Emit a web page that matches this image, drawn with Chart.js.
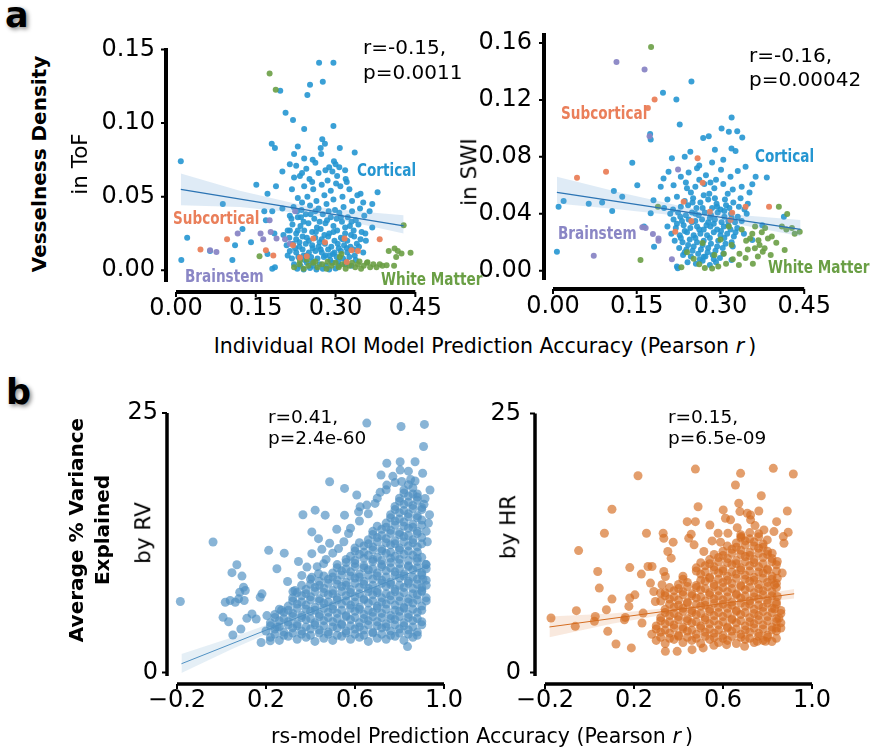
<!DOCTYPE html>
<html lang="en">
<head>
  <meta charset="UTF-8" />
  <title>Vesselness and physiological variance vs prediction accuracy</title>
  <style>
    body { margin: 0; background: #fff; font-family: "DejaVu Sans", sans-serif; color: #000; }
    #fig { position: relative; width: 871px; height: 750px; overflow: hidden; }
    canvas { position: absolute; }
    .t { position: absolute; white-space: nowrap; line-height: 1; }
    .rot { transform: translate(-50%, -50%) rotate(-90deg); }
    .cat { font-weight: bold; font-size: 17px; transform: scaleX(0.8); transform-origin: left center; }
    .stat { font-size: 20px; }
    .statb { font-size: 18.5px; line-height: 21px; }
    .panel { font-weight: bold; font-size: 35px; text-shadow: 2px 2px 4px rgba(0,0,0,0.45); }
    .xt { font-size: 20.5px; width: 600px; text-align: center; }
  </style>
</head>
<body>
<div id="fig">
  <canvas id="tof"></canvas>
  <canvas id="swi"></canvas>
  <canvas id="rv"></canvas>
  <canvas id="hr"></canvas>

  <div class="t panel" style="left:5px; top:-2px;">a</div>
  <div class="t panel" style="left:6px; top:375px;">b</div>

  <div class="t rot" style="left:39px; top:164px; font-size:20px; font-weight:bold;">Vesselness Density</div>
  <div class="t rot" style="left:80px; top:164px; font-size:21.5px;">in ToF</div>
  <div class="t rot" style="left:469px; top:172px; font-size:21.5px;">in SWI</div>
  <div class="t rot" style="left:76px; top:530px; font-size:20px; font-weight:bold;">Average % Variance</div>
  <div class="t rot" style="left:102px; top:530px; font-size:20px; font-weight:bold;">Explained</div>
  <div class="t rot" style="left:143px; top:533px; font-size:21.5px;">by RV</div>
  <div class="t rot" style="left:508px; top:527px; font-size:21.5px;">by HR</div>

  <div class="t xt" style="left:185px; top:335.7px;">Individual ROI Model Prediction Accuracy (Pearson <i>r</i>&thinsp;)</div>
  <div class="t xt" style="left:182px; top:725.7px;">rs-model Prediction Accuracy (Pearson <i>r</i>&thinsp;)</div>

  <div class="t stat" style="left:363px; top:35px; line-height:25px;">r=-0.15,<br>p=0.0011</div>
  <div class="t stat" style="left:749px; top:43px; line-height:24px;">r=-0.16,<br>p=0.00042</div>
  <div class="t statb" style="left:268px; top:406.4px;">r=0.41,<br>p=2.4e-60</div>
  <div class="t statb" style="left:668px; top:406.4px;">r=0.15,<br>p=6.5e-09</div>

  <div class="t cat" style="left:357px; top:161.6px; color:#2596d1;">Cortical</div>
  <div class="t cat" style="left:173px; top:209.6px; color:#ea7f5a;">Subcortical</div>
  <div class="t cat" style="left:185px; top:267.6px; color:#8a86c5;">Brainstem</div>
  <div class="t cat" style="left:381px; top:270.6px; color:#6a9f45;">White Matter</div>
  <div class="t cat" style="left:561px; top:104.6px; color:#ea7f5a;">Subcortical</div>
  <div class="t cat" style="left:755px; top:147.6px; color:#2596d1;">Cortical</div>
  <div class="t cat" style="left:558px; top:224.6px; color:#8a86c5;">Brainstem</div>
  <div class="t cat" style="left:768px; top:258.6px; color:#6a9f45;">White Matter</div>
</div>

<script src="https://cdn.jsdelivr.net/npm/chart.js"></script>
<script>
  // ---- ticks ----
  const roiXTicks = [0, 0.15, 0.30, 0.45];
  const roiXLabels = ['0.00', '0.15', '0.30', '0.45'];
  const tofYTicks = [0, 0.05, 0.10, 0.15];
  const tofYLabels = ['0.00', '0.05', '0.10', '0.15'];
  const swiYTicks = [0, 0.04, 0.08, 0.12, 0.16];
  const swiYLabels = ['0.00', '0.04', '0.08', '0.12', '0.16'];
  const rsXTicks = [-0.2, 0.2, 0.6, 1.0];
  const rsXLabels = ['\u22120.2', '0.2', '0.6', '1.0'];
  const varYTicks = [0, 25];
  const varYLabels = ['0', '25'];

  // ---- panel a, ToF: [prediction r, vesselness density] ----
  const tofCortical = [
    [0.009,0.074],[0.021,0.022],[0.010,0.007],[0.088,0.045],[0.064,0.013],[0.106,0.007],[0.111,0.017],[0.125,0.028],
    [0.141,0.019],[0.151,0.058],[0.269,0.141],[0.296,0.141],[0.196,0.122],[0.252,0.126],[0.276,0.128],[0.247,0.119],
    [0.206,0.107],[0.220,0.102],[0.241,0.096],[0.296,0.098],[0.180,0.086],[0.186,0.083],[0.275,0.089],[0.280,0.086],
    [0.272,0.083],[0.273,0.079],[0.229,0.084],[0.222,0.079],[0.241,0.076],[0.257,0.075],[0.308,0.083],[0.336,0.080],
    [0.300,0.072],[0.307,0.070],[0.288,0.070],[0.294,0.067],[0.214,0.072],[0.237,0.066],[0.222,0.063],[0.200,0.067],
    [0.379,0.053],[0.341,0.051],[0.319,0.062],[0.321,0.060],[0.188,0.057],[0.172,0.052],[0.166,0.040],[0.181,0.040],
    [0.200,0.042],[0.169,0.034],[0.217,0.035],[0.214,0.027],[0.202,0.024],[0.356,0.025],[0.357,0.020],[0.369,0.029],
    [0.344,0.016],[0.185,0.025],[0.181,0.001],[0.186,0.002],[0.172,0.011],[0.369,0.045],[0.364,0.040],
    [0.226,0.071],[0.245,0.069],[0.262,0.073],[0.281,0.068],[0.297,0.074],[0.233,0.064],[0.251,0.062],[0.268,0.066],
    [0.285,0.061],[0.303,0.064],[0.318,0.068],[0.241,0.057],[0.258,0.055],[0.274,0.058],[0.291,0.054],[0.309,0.057],
    [0.326,0.055],[0.218,0.055],[0.229,0.049],[0.247,0.050],[0.264,0.047],[0.279,0.051],[0.296,0.048],[0.313,0.050],
    [0.331,0.047],[0.347,0.052],[0.352,0.046],[0.256,0.060],[0.301,0.059],[0.237,0.046],
    [0.221,0.043],[0.236,0.041],[0.252,0.044],[0.268,0.042],[0.283,0.045],[0.299,0.041],[0.315,0.043],[0.331,0.040],
    [0.346,0.042],[0.214,0.037],[0.229,0.036],[0.244,0.038],[0.260,0.035],[0.276,0.038],[0.291,0.036],[0.307,0.039],
    [0.323,0.036],[0.338,0.034],[0.354,0.037],[0.219,0.031],[0.234,0.030],[0.249,0.032],[0.265,0.029],[0.281,0.032],
    [0.296,0.030],[0.312,0.033],[0.327,0.030],[0.343,0.031],[0.210,0.027],[0.226,0.025],[0.241,0.027],[0.256,0.026],
    [0.272,0.028],[0.288,0.025],[0.303,0.027],[0.318,0.025],[0.334,0.027],[0.349,0.026],[0.262,0.040],[0.287,0.040],
    [0.240,0.033],[0.302,0.035],[0.270,0.033],[0.318,0.029],[0.228,0.040],
    [0.213,0.022],[0.226,0.021],[0.238,0.023],[0.250,0.020],[0.262,0.022],[0.274,0.021],[0.286,0.023],[0.298,0.020],
    [0.310,0.022],[0.322,0.020],[0.335,0.023],[0.347,0.021],[0.208,0.017],[0.220,0.018],[0.232,0.016],[0.244,0.018],
    [0.256,0.017],[0.268,0.016],[0.280,0.018],[0.292,0.016],[0.304,0.018],[0.316,0.017],[0.328,0.016],[0.340,0.018],
    [0.214,0.013],[0.226,0.012],[0.238,0.014],[0.250,0.012],[0.262,0.013],[0.274,0.012],[0.286,0.014],[0.298,0.012],
    [0.310,0.013],[0.322,0.012],[0.334,0.014],[0.352,0.012],[0.218,0.008],[0.230,0.009],[0.242,0.007],[0.254,0.009],
    [0.266,0.008],[0.278,0.009],[0.290,0.007],[0.302,0.009],[0.314,0.008],[0.326,0.009],[0.338,0.007],[0.222,0.004],
    [0.234,0.003],[0.246,0.005],[0.258,0.003],[0.270,0.004],[0.282,0.003],[0.294,0.005],[0.306,0.003],[0.318,0.004],
    [0.330,0.003],[0.228,0.001],[0.240,0.0005],[0.252,0.0015],[0.264,0.0005],[0.276,0.001],[0.288,0.0005],[0.300,0.0012],
    [0.232,0.019],[0.257,0.015],[0.281,0.010],[0.306,0.015],[0.245,0.010],[0.270,0.019],[0.295,0.011],[0.320,0.006],[0.210,0.010],
    [0.229,0.027],[0.246,0.022],[0.263,0.026],[0.279,0.024],[0.296,0.026],[0.313,0.021],[0.329,0.024],
    [0.224,0.015],[0.240,0.010],[0.256,0.006],[0.272,0.014],[0.289,0.010],[0.305,0.006],[0.321,0.015],[0.336,0.010],
    [0.235,0.036],[0.253,0.038],[0.284,0.034],[0.310,0.036],[0.330,0.033]
  ];
  const tofSubcortical = [
    [0.046,0.014],[0.096,0.021],[0.169,0.0136],[0.183,0.010],[0.220,0.017],[0.233,0.0086],[0.246,0.0095],
    [0.258,0.0215],[0.280,0.019],[0.317,0.0215],[0.321,0.0056],[0.330,0.0136],[0.342,0.013],[0.383,0.021]
  ];
  const tofBrainstem = [
    [0.064,0.0136],[0.076,0.0124],[0.116,0.025],[0.159,0.025],[0.164,0.021],[0.176,0.034],[0.178,0.026],
    [0.189,0.0215],[0.205,0.021],[0.214,0.018],[0.224,0.040]
  ];
  const tofWhiteMatter = [
    [0.157,0.0095],[0.176,0.1336],[0.1875,0.1227],[0.428,0.0306],[0.400,0.013],[0.411,0.0147],[0.417,0.013],
    [0.424,0.0113],[0.441,0.0118],[0.414,0.009],[0.396,0.0034],[0.410,0.0030],
    [0.222,0.002],[0.232,0.004],[0.240,0.001],[0.249,0.003],[0.258,0.005],[0.266,0.002],[0.275,0.004],[0.283,0.001],
    [0.292,0.003],[0.300,0.005],[0.306,0.002],[0.313,0.004],[0.319,0.001],[0.326,0.003],[0.331,0.005],[0.337,0.002],
    [0.342,0.004],[0.348,0.001],[0.353,0.003],[0.359,0.005],[0.365,0.002],[0.371,0.004],[0.377,0.002],[0.383,0.004],
    [0.388,0.003],[0.233,0.0065],[0.246,0.0072],[0.262,0.006],[0.308,0.009],[0.311,0.011],[0.285,0.0058],
    [0.345,0.006],[0.360,0.0055]
  ];
  const tofFitX = [0.009, 0.428];
  const tofFitY = [0.055, 0.0301];
  const tofBandX = [0.009, 0.12, 0.24, 0.34, 0.428];
  const tofBandLow = [0.0441, 0.043, 0.0385, 0.032, 0.0249];
  const tofBandHigh = [0.0657, 0.054, 0.044, 0.040, 0.0373];

  // ---- panel a, SWI ----
  const swiCortical = [
    [0.007,0.0133],[0.010,0.045],[0.019,0.049],[0.064,0.047],[0.088,0.048],[0.106,0.042],[0.109,0.056],[0.124,0.052],
    [0.142,0.0758],[0.151,0.060],[0.197,0.125],[0.221,0.1203],[0.248,0.133],[0.227,0.1027],[0.175,0.0922],[0.174,0.096],
    [0.269,0.0933],[0.279,0.0945],[0.320,0.1077],[0.302,0.100],[0.315,0.0976],[0.330,0.098],[0.339,0.0936],[0.3198,0.0859],
    [0.327,0.0842],[0.345,0.073],[0.363,0.066],[0.383,0.0655],[0.357,0.0608],[0.246,0.0835],[0.213,0.079],[0.207,0.0695],
    [0.198,0.0648],[0.193,0.059],[0.180,0.0496],[0.175,0.0403],[0.2235,0.0017],[0.163,0.031],[0.181,0.0168],[0.270,0.0098],
    [0.288,0.008],[0.3198,0.0075],[0.357,0.0216],[0.375,0.032],[0.4136,0.038],[0.236,0.080],[0.290,0.085],[0.305,0.078],
    [0.258,0.072],[0.331,0.070],
    [0.262,0.074],[0.285,0.076],[0.301,0.071],[0.243,0.069],[0.274,0.067],[0.318,0.066],[0.229,0.066],[0.292,0.064],
    [0.216,0.060],[0.238,0.062],[0.255,0.059],[0.271,0.061],[0.289,0.058],[0.305,0.061],[0.322,0.057],[0.338,0.059],
    [0.247,0.055],[0.280,0.054],[0.313,0.054],[0.352,0.055],[0.205,0.050],[0.222,0.052],[0.236,0.049],[0.251,0.051],
    [0.264,0.048],[0.278,0.050],[0.293,0.047],[0.308,0.050],[0.323,0.048],[0.336,0.051],[0.349,0.047],[0.229,0.045],
    [0.257,0.044],[0.285,0.044],[0.300,0.043],[0.316,0.044],[0.343,0.043],[0.199,0.044],[0.210,0.040],[0.224,0.041],
    [0.238,0.039],[0.249,0.041],[0.261,0.039],[0.272,0.041],[0.283,0.039],[0.295,0.041],[0.307,0.038],[0.319,0.040],
    [0.331,0.038],[0.347,0.040],[0.216,0.036],[0.231,0.035],[0.243,0.036],[0.255,0.035],[0.267,0.036],[0.278,0.034],
    [0.290,0.036],[0.302,0.034],[0.314,0.035],[0.326,0.034],[0.338,0.035],[0.205,0.031],[0.220,0.030],[0.234,0.032],
    [0.246,0.030],[0.258,0.031],[0.270,0.029],[0.282,0.031],[0.294,0.029],[0.306,0.031],[0.318,0.029],[0.330,0.030],
    [0.212,0.026],[0.227,0.025],[0.240,0.027],[0.252,0.025],[0.264,0.026],[0.276,0.025],[0.288,0.027],[0.300,0.025],
    [0.312,0.026],[0.324,0.024],[0.342,0.026],[0.218,0.021],[0.232,0.020],[0.245,0.022],[0.258,0.020],[0.270,0.021],
    [0.283,0.019],[0.296,0.021],[0.309,0.019],[0.226,0.016],[0.239,0.015],[0.252,0.017],[0.265,0.015],[0.278,0.016],
    [0.291,0.014],[0.304,0.016],[0.322,0.017],[0.233,0.011],[0.247,0.010],[0.260,0.012],[0.273,0.010],[0.286,0.011],
    [0.299,0.009],[0.241,0.006],[0.256,0.005],[0.268,0.007],[0.281,0.004],[0.222,0.003],
    [0.215,0.043],[0.228,0.038],[0.242,0.046],[0.255,0.040],[0.268,0.044],[0.281,0.037],[0.294,0.045],[0.307,0.042],
    [0.320,0.037],[0.333,0.045],[0.222,0.033],[0.236,0.028],[0.249,0.034],[0.262,0.029],[0.275,0.032],[0.288,0.033],
    [0.301,0.028],[0.314,0.032],[0.327,0.027],[0.229,0.023],[0.242,0.018],[0.255,0.023],[0.268,0.018],[0.281,0.023],
    [0.294,0.017],[0.307,0.023],[0.320,0.020],[0.236,0.013],[0.250,0.014],[0.263,0.008],[0.277,0.013],[0.292,0.006],
    [0.305,0.012],[0.250,0.048],[0.270,0.053],[0.290,0.051],[0.240,0.058],[0.262,0.064],[0.282,0.062],[0.310,0.046]
  ];
  const swiSubcortical = [
    [0.043,0.0653],[0.095,0.0695],[0.170,0.1144],[0.182,0.1203],[0.259,0.079],[0.268,0.0618],[0.234,0.0484],
    [0.281,0.0414],[0.248,0.0349],[0.219,0.0274],[0.321,0.0407],[0.345,0.045],[0.387,0.045],[0.318,0.0356]
  ];
  const swiBrainstem = [
    [0.1137,0.1466],[0.164,0.1414],[0.173,0.0945],[0.224,0.0712],[0.160,0.0305],[0.166,0.030],[0.179,0.0258],
    [0.189,0.0227],[0.189,0.021],[0.073,0.0105],[0.213,0.008]
  ];
  const swiWhiteMatter = [
    [0.1757,0.1572],[0.1567,0.0075],[0.188,0.045],[0.4046,0.045],[0.4195,0.0398],[0.442,0.0274],[0.428,0.030],
    [0.418,0.029],[0.410,0.031],[0.433,0.026],[0.338,0.029],[0.353,0.0227],[0.368,0.0215],[0.370,0.018],[0.379,0.0158],
    [0.385,0.0227],[0.400,0.0196],[0.415,0.0145],[0.3757,0.0133],[0.3616,0.0158],[0.346,0.021],[0.357,0.026],
    [0.362,0.031],[0.374,0.027],[0.392,0.024],[0.380,0.030],[0.349,0.015],[0.334,0.012],[0.322,0.008],[0.310,0.005],
    [0.296,0.003],[0.285,0.0015],[0.272,0.002],[0.262,0.0045],[0.252,0.0085],[0.240,0.013],[0.230,0.0025],
    [0.306,0.012],[0.320,0.018],[0.333,0.004],[0.345,0.009],[0.358,0.005],[0.367,0.010],[0.390,0.011],[0.300,0.022],
    [0.315,0.031],[0.289,0.011],[0.268,0.0195]
  ];
  const swiFitX = [0.007, 0.4435];
  const swiFitY = [0.055, 0.0290];
  const swiBandX = [0.007, 0.12, 0.24, 0.34, 0.4435];
  const swiBandLow = [0.0473, 0.043, 0.038, 0.032, 0.0243];
  const swiBandHigh = [0.066, 0.055, 0.0445, 0.039, 0.0356];

  // ---- panel b, RV: [rs-model r, % variance] ----
  const rvPoints = [
    [-0.185,6.84],[-0.038,12.58],[0.069,10.39],[0.047,9.62],[0.092,9.29],[0.099,8.22],[0.107,7.9],[0.082,7.74],
    [0.017,6.77],[0.039,6.94],[0.062,6.77],[0.077,7.1],[0.102,6.94],[0.007,5.32],[0.032,4.9],[0.051,3.62],
    [0.087,4.2],[0.114,5.22],[0.137,5.65],[0.156,5.16],[0.174,7.26],[0.182,7.58],[0.204,5.49],[0.219,3.07],
    [0.178,2.9],[0.249,10.0],[0.212,11.77],[0.282,11.5],[0.297,8.77],[0.321,7.8],[0.346,10.7],[0.366,15.2],
    [0.421,15.64],[0.466,15.16],[0.406,13.55],[0.436,12.9],[0.451,11.87],[0.486,18.38],[0.553,17.74],[0.608,17.1],
    [0.553,15.16],[0.518,13.8],[0.486,12.45],[0.406,11.45],[0.384,10.16],[0.361,9.36],[0.653,24.03],[0.807,23.7],
    [0.912,23.9],[0.908,21.77],[0.743,20.16],[0.803,20.3],[0.87,20.3],[0.717,19.03],[0.803,19.5],[0.904,19.2],
    [0.743,18.06],[0.78,18.3],[0.87,18.45],[0.937,17.58],[0.915,16.77],[0.623,15.96],[0.653,16.13],[0.69,16.29],
    [0.713,17.36],[0.616,15.48],[0.571,13.39],[0.526,11.94],[0.459,10.49],[0.436,9.52],[0.406,9.19],
    [0.93,14.4],[0.92,13.6],[0.935,15.2],[0.925,12.6],[0.918,10.4],[0.905,9.0],[0.9,8.2],[0.836,2.5],[0.25,4.4],
    [0.27,6.0],[0.33,7.9],[0.36,8.4],[0.40,9.0],[0.43,10.2],[0.47,10.9],[0.50,11.5],[0.55,12.6],[0.58,13.9],
    [0.62,14.6],[0.66,15.3],[0.70,16.8],[0.74,17.6],[0.77,18.9],[0.84,19.4],[0.88,17.2],[0.91,16.2],
    // dense body
    [0.22,3.4],[0.26,3.1],[0.30,3.5],[0.34,3.2],[0.38,3.4],[0.42,3.0],[0.46,3.3],[0.50,3.1],[0.54,3.5],[0.58,3.2],
    [0.62,3.4],[0.66,3.0],[0.70,3.3],[0.74,3.2],[0.78,3.5],[0.82,3.1],[0.86,3.4],
    [0.24,3.7],[0.28,3.6],[0.32,3.8],[0.36,3.7],[0.40,3.6],[0.44,3.8],[0.48,3.7],[0.52,3.6],[0.56,3.8],[0.60,3.7],
    [0.64,3.6],[0.68,3.8],[0.72,3.7],[0.76,3.6],[0.80,3.8],[0.84,3.7],[0.88,3.6],
    [0.20,4.0],[0.24,4.2],[0.28,3.9],[0.32,4.3],[0.36,4.0],[0.40,4.2],[0.44,4.1],[0.48,3.9],[0.52,4.3],[0.56,4.0],
    [0.60,4.2],[0.64,4.1],[0.68,3.9],[0.72,4.3],[0.76,4.0],[0.80,4.2],[0.84,4.1],[0.88,3.9],
    [0.22,4.5],[0.26,4.4],[0.30,4.6],[0.34,4.5],[0.38,4.4],[0.42,4.6],[0.46,4.5],[0.50,4.4],[0.54,4.6],[0.58,4.5],
    [0.62,4.4],[0.66,4.6],[0.70,4.5],[0.74,4.4],[0.78,4.6],[0.82,4.5],[0.86,4.4],[0.90,4.6],
    [0.22,4.8],[0.26,5.0],[0.30,4.9],[0.34,4.7],[0.38,5.1],[0.42,4.8],[0.46,5.0],[0.50,4.9],[0.54,4.7],[0.58,5.1],
    [0.62,4.8],[0.66,5.0],[0.70,4.9],[0.74,4.7],[0.78,5.1],[0.82,4.8],[0.86,5.0],[0.90,4.9],
    [0.24,5.3],[0.28,5.2],[0.32,5.4],[0.36,5.3],[0.40,5.2],[0.44,5.4],[0.48,5.3],[0.52,5.2],[0.56,5.4],[0.60,5.3],
    [0.64,5.2],[0.68,5.4],[0.72,5.3],[0.76,5.2],[0.80,5.4],[0.84,5.3],[0.88,5.2],
    [0.24,5.6],[0.28,5.8],[0.32,5.7],[0.36,5.5],[0.40,5.9],[0.44,5.6],[0.48,5.8],[0.52,5.7],[0.56,5.5],[0.60,5.9],
    [0.64,5.6],[0.68,5.8],[0.72,5.7],[0.76,5.5],[0.80,5.9],[0.84,5.6],[0.88,5.8],
    [0.26,6.1],[0.30,6.0],[0.34,6.2],[0.38,6.1],[0.42,6.0],[0.46,6.2],[0.50,6.1],[0.54,6.0],[0.58,6.2],[0.62,6.1],
    [0.66,6.0],[0.70,6.2],[0.74,6.1],[0.78,6.0],[0.82,6.2],[0.86,6.1],[0.90,6.0],
    [0.30,6.4],[0.34,6.6],[0.38,6.5],[0.42,6.3],[0.46,6.7],[0.50,6.4],[0.54,6.6],[0.58,6.5],[0.62,6.3],[0.66,6.7],
    [0.70,6.4],[0.74,6.6],[0.78,6.5],[0.82,6.3],[0.86,6.7],[0.90,6.4],
    [0.32,6.9],[0.36,6.8],[0.40,7.0],[0.44,6.9],[0.48,6.8],[0.52,7.0],[0.56,6.9],[0.60,6.8],[0.64,7.0],[0.68,6.9],
    [0.72,6.8],[0.76,7.0],[0.80,6.9],[0.84,6.8],[0.88,7.0],[0.92,6.9],
    [0.32,7.2],[0.36,7.4],[0.40,7.3],[0.44,7.1],[0.48,7.5],[0.52,7.2],[0.56,7.4],[0.60,7.3],[0.64,7.1],[0.68,7.5],
    [0.72,7.2],[0.76,7.4],[0.80,7.3],[0.84,7.1],[0.88,7.5],[0.92,7.2],
    [0.34,7.7],[0.38,7.6],[0.42,7.8],[0.46,7.7],[0.50,7.6],[0.54,7.8],[0.58,7.7],[0.62,7.6],[0.66,7.8],[0.70,7.7],
    [0.74,7.6],[0.78,7.8],[0.82,7.7],[0.86,7.6],[0.90,7.8],
    [0.38,8.0],[0.42,8.2],[0.46,8.1],[0.50,7.9],[0.54,8.3],[0.58,8.0],[0.62,8.2],[0.66,8.1],[0.70,7.9],[0.74,8.3],
    [0.78,8.0],[0.82,8.2],[0.86,8.1],[0.90,7.9],
    [0.40,8.5],[0.44,8.4],[0.48,8.6],[0.52,8.5],[0.56,8.4],[0.60,8.6],[0.64,8.5],[0.68,8.4],[0.72,8.6],[0.76,8.5],
    [0.80,8.4],[0.84,8.6],[0.88,8.5],[0.92,8.4],
    [0.44,8.8],[0.48,9.0],[0.52,8.9],[0.56,8.7],[0.60,9.1],[0.64,8.8],[0.68,9.0],[0.72,8.9],[0.76,8.7],[0.80,9.1],
    [0.84,8.8],[0.88,9.0],[0.92,8.9],
    [0.46,9.3],[0.50,9.2],[0.54,9.4],[0.58,9.3],[0.62,9.2],[0.66,9.4],[0.70,9.3],[0.74,9.2],[0.78,9.4],[0.82,9.3],
    [0.86,9.2],[0.90,9.4],
    [0.50,9.6],[0.54,9.8],[0.58,9.7],[0.62,9.5],[0.66,9.9],[0.70,9.6],[0.74,9.8],[0.78,9.7],[0.82,9.5],[0.86,9.9],[0.90,9.6],
    [0.52,10.1],[0.56,10.0],[0.60,10.2],[0.64,10.1],[0.68,10.0],[0.72,10.2],[0.76,10.1],[0.80,10.0],[0.84,10.2],[0.88,10.1],[0.92,10.0],
    [0.52,10.4],[0.56,10.6],[0.60,10.5],[0.64,10.3],[0.68,10.7],[0.72,10.4],[0.76,10.6],[0.80,10.5],[0.84,10.3],[0.88,10.7],[0.92,10.4],
    [0.56,10.9],[0.60,10.8],[0.64,11.0],[0.68,10.9],[0.72,10.8],[0.76,11.0],[0.80,10.9],[0.84,10.8],[0.88,11.0],
    [0.58,11.2],[0.62,11.4],[0.66,11.3],[0.70,11.1],[0.74,11.5],[0.78,11.2],[0.82,11.4],[0.86,11.3],[0.90,11.1],
    [0.60,11.7],[0.64,11.6],[0.68,11.8],[0.72,11.7],[0.76,11.6],[0.80,11.8],[0.84,11.7],[0.88,11.6],
    [0.60,12.0],[0.64,12.2],[0.68,12.1],[0.72,11.9],[0.76,12.3],[0.80,12.0],[0.84,12.2],[0.88,12.1],
    [0.62,12.5],[0.66,12.4],[0.70,12.6],[0.74,12.5],[0.78,12.4],[0.82,12.6],[0.86,12.5],[0.90,12.4],
    [0.66,12.8],[0.70,13.0],[0.74,12.9],[0.78,12.7],[0.82,13.1],[0.86,12.8],[0.90,13.0],
    [0.68,13.3],[0.72,13.2],[0.76,13.4],[0.80,13.3],[0.84,13.2],[0.88,13.4],
    [0.68,13.6],[0.72,13.8],[0.76,13.7],[0.80,13.5],[0.84,13.9],[0.88,13.6],
    [0.70,14.1],[0.74,14.0],[0.78,14.2],[0.82,14.1],[0.86,14.0],[0.90,14.2],
    [0.74,14.4],[0.78,14.6],[0.82,14.5],[0.86,14.3],[0.90,14.7],
    [0.76,14.9],[0.80,14.8],[0.84,15.0],[0.88,14.9],
    [0.76,15.2],[0.80,15.4],[0.84,15.3],[0.88,15.1],
    [0.78,15.7],[0.82,15.6],[0.86,15.8],[0.90,15.7],
    [0.78,16.0],[0.82,16.2],[0.86,16.1],[0.90,15.9],
    [0.80,16.5],[0.84,16.4],[0.88,16.6],
    [0.80,16.8],[0.84,17.0],[0.88,16.9],[0.82,17.3],[0.86,17.2],[0.82,17.6],[0.86,17.8],[0.84,18.1],[0.81,18.4],[0.85,18.6]
  ];
  const rvFitX = [-0.18, 0.93];
  const rvFitY = [0.85, 10.3];
  const rvBandX = [-0.18, 0.05, 0.3, 0.6, 0.93];
  const rvBandLow = [-0.05, 2.3, 4.6, 7.3, 9.8];
  const rvBandHigh = [1.8, 3.4, 5.35, 7.7, 10.8];

  // ---- panel b, HR ----
  const hrPoints = [
    [-0.173,5.26],[-0.064,4.46],[-0.059,5.97],[-0.049,11.77],[0.026,5.42],[0.022,4.94],[0.037,9.75],[0.044,8.15],
    [0.067,13.44],[0.082,3.98],[0.101,15.75],[0.101,7.09],[0.076,6.06],[0.119,2.76],[0.157,5.1],[0.161,5.32],
    [0.177,6.38],[0.181,7.19],[0.181,10.13],[0.188,2.38],[0.204,7.5],[0.218,18.99],[0.233,9.5],[0.241,5.74],
    [0.236,4.78],[0.256,13.44],[0.263,10.23],[0.281,10.23],[0.274,8.63],[0.289,7.82],[0.296,6.86],[0.331,13.44],
    [0.334,12.96],[0.352,11.68],[0.367,11.04],[0.334,9.75],[0.341,9.27],[0.326,8.47],[0.319,7.67],[0.376,12.58],
    [0.439,14.56],[0.476,14.56],[0.488,16.0],[0.476,19.63],[0.446,12.96],[0.457,13.35],[0.47,12.32],[0.514,11.68],
    [0.541,14.24],[0.551,12.7],[0.578,13.44],[0.589,12.58],[0.601,15.69],[0.611,14.89],[0.634,14.73],[0.656,18.09],
    [0.679,19.22],[0.676,15.53],[0.671,16.33],[0.709,15.37],[0.724,14.73],[0.761,15.59],[0.772,17.06],[0.744,14.18],
    [0.784,13.76],[0.799,12.8],[0.664,13.98],[0.622,13.44],[0.682,13.12],[0.724,15.2],[0.826,19.7],[0.916,19.15],
    [0.889,15.59],[0.841,14.56],[0.829,13.6],[0.871,13.12],[0.874,12.48],[0.821,11.52],[0.844,10.71],[0.844,9.11],
    [0.832,8.47],[0.866,9.6],[0.844,7.34],[0.841,4.3],[0.851,5.26],[0.832,6.16],[0.893,13.54],[0.341,2.05],
    [0.394,2.05],[0.461,2.21],[0.511,2.38],[0.559,2.63],[0.616,2.69],[0.697,2.53],[0.754,3.01],[0.791,3.01],
    // dense body
    [0.30,3.1],[0.34,2.8],[0.38,3.2],[0.42,2.9],[0.46,3.1],[0.50,2.8],[0.54,3.2],[0.58,2.9],[0.62,3.1],[0.66,2.8],
    [0.70,3.2],[0.74,2.9],[0.78,3.1],[0.82,3.0],
    [0.32,3.4],[0.36,3.3],[0.40,3.5],[0.44,3.4],[0.48,3.3],[0.52,3.5],[0.56,3.4],[0.60,3.3],[0.64,3.5],[0.68,3.4],
    [0.72,3.3],[0.76,3.5],[0.80,3.4],[0.84,3.3],
    [0.28,3.7],[0.32,3.9],[0.36,3.8],[0.40,3.6],[0.44,4.0],[0.48,3.7],[0.52,3.9],[0.56,3.8],[0.60,3.6],[0.64,4.0],
    [0.68,3.7],[0.72,3.9],[0.76,3.8],[0.80,3.6],[0.84,4.0],
    [0.30,4.2],[0.34,4.1],[0.38,4.3],[0.42,4.2],[0.46,4.1],[0.50,4.3],[0.54,4.2],[0.58,4.1],[0.62,4.3],[0.66,4.2],
    [0.70,4.1],[0.74,4.3],[0.78,4.2],[0.82,4.1],[0.86,4.3],
    [0.30,4.5],[0.34,4.7],[0.38,4.6],[0.42,4.4],[0.46,4.8],[0.50,4.5],[0.54,4.7],[0.58,4.6],[0.62,4.4],[0.66,4.8],
    [0.70,4.5],[0.74,4.7],[0.78,4.6],[0.82,4.4],[0.86,4.8],
    [0.32,5.0],[0.36,4.9],[0.40,5.1],[0.44,5.0],[0.48,4.9],[0.52,5.1],[0.56,5.0],[0.60,4.9],[0.64,5.1],[0.68,5.0],
    [0.72,4.9],[0.76,5.1],[0.80,5.0],[0.84,4.9],
    [0.32,5.3],[0.36,5.5],[0.40,5.4],[0.44,5.2],[0.48,5.6],[0.52,5.3],[0.56,5.5],[0.60,5.4],[0.64,5.2],[0.68,5.6],
    [0.72,5.3],[0.76,5.5],[0.80,5.4],[0.84,5.2],
    [0.34,5.8],[0.38,5.7],[0.42,5.9],[0.46,5.8],[0.50,5.7],[0.54,5.9],[0.58,5.8],[0.62,5.7],[0.66,5.9],[0.70,5.8],
    [0.74,5.7],[0.78,5.9],[0.82,5.8],[0.86,5.7],
    [0.34,6.1],[0.38,6.3],[0.42,6.2],[0.46,6.0],[0.50,6.4],[0.54,6.1],[0.58,6.3],[0.62,6.2],[0.66,6.0],[0.70,6.4],
    [0.74,6.1],[0.78,6.3],[0.82,6.2],[0.86,6.0],
    [0.36,6.6],[0.40,6.5],[0.44,6.7],[0.48,6.6],[0.52,6.5],[0.56,6.7],[0.60,6.6],[0.64,6.5],[0.68,6.7],[0.72,6.6],
    [0.76,6.5],[0.80,6.7],[0.84,6.6],
    [0.32,6.9],[0.36,7.1],[0.40,7.0],[0.44,6.8],[0.48,7.2],[0.52,6.9],[0.56,7.1],[0.60,7.0],[0.64,6.8],[0.68,7.2],
    [0.72,6.9],[0.76,7.1],[0.80,7.0],[0.84,6.8],
    [0.34,7.4],[0.38,7.3],[0.42,7.5],[0.46,7.4],[0.50,7.3],[0.54,7.5],[0.58,7.4],[0.62,7.3],[0.66,7.5],[0.70,7.4],
    [0.74,7.3],[0.78,7.5],[0.82,7.4],
    [0.34,7.7],[0.38,7.9],[0.42,7.8],[0.46,7.6],[0.50,8.0],[0.54,7.7],[0.58,7.9],[0.62,7.8],[0.66,7.6],[0.70,8.0],
    [0.74,7.7],[0.78,7.9],[0.82,7.8],
    [0.36,8.2],[0.40,8.1],[0.44,8.3],[0.48,8.2],[0.52,8.1],[0.56,8.3],[0.60,8.2],[0.64,8.1],[0.68,8.3],[0.72,8.2],
    [0.76,8.1],[0.80,8.3],[0.84,8.2],
    [0.40,8.5],[0.44,8.7],[0.48,8.4],[0.52,8.8],[0.56,8.5],[0.60,8.7],[0.64,8.6],[0.68,8.4],[0.72,8.8],[0.76,8.5],
    [0.80,8.7],[0.84,8.6],
    [0.42,9.0],[0.50,8.9],[0.54,9.1],[0.58,9.0],[0.62,8.9],[0.66,9.1],[0.70,9.0],[0.74,8.9],[0.78,9.1],[0.82,9.0],
    [0.42,9.3],[0.50,9.5],[0.54,9.2],[0.58,9.6],[0.62,9.3],[0.66,9.5],[0.70,9.4],[0.74,9.2],[0.78,9.6],[0.82,9.3],
    [0.48,9.8],[0.52,9.7],[0.56,9.9],[0.60,9.8],[0.64,9.7],[0.68,9.9],[0.72,9.8],[0.76,9.7],[0.80,9.9],[0.84,9.8],
    [0.48,10.1],[0.52,10.3],[0.56,10.2],[0.60,10.0],[0.64,10.4],[0.68,10.1],[0.72,10.3],[0.76,10.2],[0.80,10.0],[0.84,10.4],
    [0.50,10.6],[0.54,10.5],[0.58,10.7],[0.62,10.6],[0.66,10.5],[0.70,10.7],[0.74,10.6],[0.78,10.5],[0.82,10.7],
    [0.54,10.9],[0.58,11.1],[0.62,11.0],[0.66,10.8],[0.70,11.2],[0.74,10.9],[0.78,11.1],[0.82,11.0],
    [0.56,11.4],[0.60,11.3],[0.64,11.5],[0.68,11.4],[0.72,11.3],[0.76,11.5],[0.80,11.4],
    [0.60,11.7],[0.64,11.9],[0.68,11.8],[0.72,11.6],[0.76,12.0],[0.80,11.7],
    [0.62,12.2],[0.66,12.1],[0.70,12.3],[0.74,12.2],[0.78,12.1],
    [0.66,12.5],[0.70,12.7],[0.74,12.6],[0.78,12.4],[0.68,13.0],[0.72,12.9],[0.76,13.1],
    [0.68,13.3],[0.72,13.5],[0.76,13.4]
  ];
  const hrFitX = [-0.18, 0.92];
  const hrFitY = [4.4, 7.6];
  const hrBandX = [-0.18, 0.1, 0.4, 0.65, 0.92];
  const hrBandLow = [3.4, 4.7, 5.83, 6.5, 7.15];
  const hrBandHigh = [5.4, 5.7, 6.33, 7.1, 8.05];

  // ---- drawing ----
  Chart.defaults.font.family = '"DejaVu Sans", sans-serif';

  // offset, trimmed spines like seaborn despine(offset=10, trim=True)
  const spinePlugin = {
    id: 'spines',
    afterDraw(chart, args, o) {
      const { ctx, chartArea: a, scales: { x, y } } = chart;
      const sx = a.left - o.yOff, sy = a.bottom + o.xOff;
      const xs = x.ticks.map(t => x.getPixelForValue(t.value));
      ctx.save();
      ctx.strokeStyle = '#000';
      ctx.lineWidth = o.width;
      ctx.beginPath();
      ctx.moveTo(sx, a.top); ctx.lineTo(sx, a.bottom);
      ctx.moveTo(xs[0], sy); ctx.lineTo(xs[xs.length - 1], sy);
      ctx.stroke();
      ctx.lineWidth = 2;
      ctx.beginPath();
      y.ticks.forEach(t => { const p = y.getPixelForValue(t.value); ctx.moveTo(sx, p); ctx.lineTo(sx - 5, p); });
      xs.forEach(p => { ctx.moveTo(p, sy); ctx.lineTo(p, sy + 5); });
      ctx.stroke();
      ctx.restore();
    }
  };

  const pts = a => a.map(([x, y]) => ({ x, y }));
  const curve = (xs, ys) => xs.map((x, i) => ({ x, y: ys[i] }));

  function dots(data, color, r, order) {
    return { data: pts(data), backgroundColor: color, borderWidth: 0, pointRadius: r, clip: false, order };
  }
  function band(xs, lo, hi, color, order) {
    return [
      { data: curve(xs, lo), showLine: true, pointRadius: 0, borderWidth: 0, borderColor: 'transparent', fill: false, order },
      { data: curve(xs, hi), showLine: true, pointRadius: 0, borderWidth: 0, borderColor: 'transparent', fill: '-1', backgroundColor: color, order }
    ];
  }
  function fit(xs, ys, color, w, order) {
    return { data: curve(xs, ys), showLine: true, pointRadius: 0, borderColor: color, borderWidth: w, fill: false, order };
  }

  function axis(a, horizontal, size) {
    return {
      type: 'linear', min: a.min, max: a.max,
      grid: { display: false }, border: { display: false },
      afterFit: s => { if (horizontal) s.height = size; else s.width = size; },
      afterBuildTicks: s => { s.ticks = a.ticks.map(v => ({ value: v })); },
      ticks: { autoSkip: false, maxRotation: 0, padding: a.pad, color: '#000', font: { size: 24 },
               callback: (v, i) => a.labels[i] }
    };
  }

  function panel(id, box, cfg) {
    const yw = 100, xh = 50, pt = 30, pr = 60;
    const c = document.getElementById(id);
    c.width = box.r - box.l + yw + pr;
    c.height = box.b - box.t + pt + xh;
    c.style.left = (box.l - yw) + 'px';
    c.style.top = (box.t - pt) + 'px';
    new Chart(c, {
      type: 'scatter',
      data: { datasets: cfg.datasets },
      options: {
        responsive: false, animation: false, events: [],
        layout: { padding: { top: pt, right: pr, left: 0, bottom: 0 } },
        plugins: { legend: { display: false }, tooltip: { enabled: false }, spines: cfg.spines },
        scales: { x: axis(cfg.x, true, xh), y: axis(cfg.y, false, yw) }
      },
      plugins: [spinePlugin]
    });
  }

  const cortical = 'rgba(37,150,209,0.9)', subcortical = 'rgba(234,127,90,0.95)',
        brainstem = 'rgba(138,134,197,0.95)', white = 'rgba(106,159,69,0.9)';

  panel('tof', { l: 176, t: 48, r: 418, b: 282 }, {
    x: { min: 0, max: 0.455, ticks: roiXTicks, labels: roiXLabels, pad: 4 },
    y: { min: -0.008, max: 0.151, ticks: tofYTicks, labels: tofYLabels, pad: 13 },
    spines: { xOff: 10, yOff: 10, width: 4 },
    datasets: [
      fit(tofFitX, tofFitY, '#2b74b4', 1.3, 1),
      ...band(tofBandX, tofBandLow, tofBandHigh, 'rgba(110,165,215,0.22)', 2),
      dots(tofSubcortical, subcortical, 3, 3),
      dots(tofBrainstem, brainstem, 3, 4),
      dots(tofWhiteMatter, white, 3, 5),
      dots(tofCortical, cortical, 3, 6)
    ]
  });

  panel('swi', { l: 553, t: 33, r: 807, b: 280 }, {
    x: { min: 0, max: 0.455, ticks: roiXTicks, labels: roiXLabels, pad: 4 },
    y: { min: -0.0065, max: 0.167, ticks: swiYTicks, labels: swiYLabels, pad: 13 },
    spines: { xOff: 9, yOff: 9, width: 4 },
    datasets: [
      fit(swiFitX, swiFitY, '#2b74b4', 1.3, 1),
      ...band(swiBandX, swiBandLow, swiBandHigh, 'rgba(110,165,215,0.22)', 2),
      dots(swiSubcortical, subcortical, 3, 3),
      dots(swiBrainstem, brainstem, 3, 4),
      dots(swiWhiteMatter, white, 3, 5),
      dots(swiCortical, cortical, 3, 6)
    ]
  });

  panel('rv', { l: 177, t: 413, r: 444, b: 676 }, {
    x: { min: -0.2, max: 1.0, ticks: rsXTicks, labels: rsXLabels, pad: 2 },
    y: { min: -0.33, max: 25, ticks: varYTicks, labels: varYLabels, pad: 11 },
    spines: { xOff: 8, yOff: 10, width: 3.5 },
    datasets: [
      dots(rvPoints, 'rgba(80,145,195,0.68)', 4.5, 1),
      fit(rvFitX, rvFitY, 'rgb(80,145,195)', 1, 2),
      ...band(rvBandX, rvBandLow, rvBandHigh, 'rgba(80,145,195,0.15)', 3)
    ]
  });

  panel('hr', { l: 545, t: 413, r: 812, b: 676 }, {
    x: { min: -0.2, max: 1.0, ticks: rsXTicks, labels: rsXLabels, pad: 2 },
    y: { min: -0.33, max: 25, ticks: varYTicks, labels: varYLabels, pad: 16 },
    spines: { xOff: 8, yOff: 10, width: 3.5 },
    datasets: [
      dots(hrPoints, 'rgba(212,108,32,0.66)', 4.5, 1),
      fit(hrFitX, hrFitY, 'rgb(212,108,32)', 1, 2),
      ...band(hrBandX, hrBandLow, hrBandHigh, 'rgba(212,108,32,0.15)', 3)
    ]
  });
</script>
</body>
</html>
